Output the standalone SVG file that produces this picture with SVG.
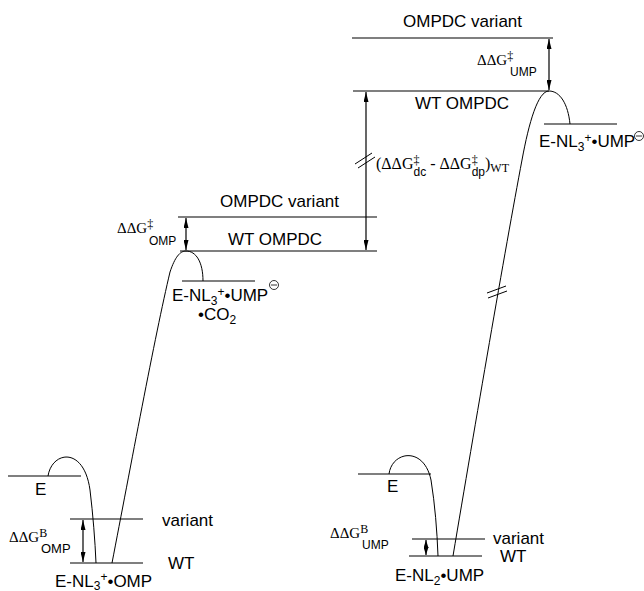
<svg xmlns="http://www.w3.org/2000/svg" width="644" height="591" viewBox="0 0 644 591">
<style>
.ln{stroke:#000;stroke-width:1.2;fill:none}
.cv{stroke:#000;stroke-width:1;fill:none}
.ar{stroke:#000;stroke-width:1.2;fill:none;marker-start:url(#ah);marker-end:url(#ah)}
.ars{stroke:#000;stroke-width:1.2;fill:none;marker-start:url(#ahs);marker-end:url(#ahs)}
.t{font-family:"Liberation Sans",Arial,Helvetica,sans-serif;font-size:17px;fill:#000}
.g{font-family:"Liberation Serif","Times New Roman",serif;font-size:15px;fill:#000}
.gd{font-family:"Liberation Serif","Times New Roman",serif;font-size:16px;fill:#000}
.s{font-family:"Liberation Sans",Arial,Helvetica,sans-serif;font-size:12px}
.gs{font-family:"Liberation Serif","Times New Roman",serif;font-size:12px}
</style>
<defs>
<marker id="ah" viewBox="0 0 10 5" refX="10" refY="2.5" markerWidth="10" markerHeight="5" markerUnits="userSpaceOnUse" orient="auto-start-reverse"><path d="M0,0 L10,2.5 L0,5 z" fill="#000"/></marker>
<marker id="ahs" viewBox="0 0 8 5" refX="8" refY="2.5" markerWidth="8" markerHeight="5" markerUnits="userSpaceOnUse" orient="auto-start-reverse"><path d="M0,0 L8,2.5 L0,5 z" fill="#000"/></marker>
</defs>

<!-- Right top: UMP transition states -->
<g id="ts-ump-variant">
<line class="ln" x1="352" y1="38" x2="553" y2="38"/>
<text class="t" x="403" y="27">OMPDC variant</text>
</g>
<g id="ts-ump-wt">
<line class="ln" x1="353" y1="91" x2="549" y2="91"/>
<text class="t" x="415" y="109">WT OMPDC</text>
</g>
<g id="int-ump">
<line class="ln" x1="544" y1="124" x2="617" y2="124"/>
<text class="t" x="539" y="147">E-NL<tspan class="s" dy="4">3</tspan><tspan class="s" dy="-9">+</tspan><tspan dy="5">•UMP</tspan></text>
<circle cx="639" cy="136" r="4.5" fill="none" stroke="#000" stroke-width="0.8"/>
<line x1="636" y1="136" x2="642" y2="136" stroke="#000" stroke-width="0.8"/>
</g>
<g id="lbl-ddg-ump">
<text class="g" x="477" y="65">ΔΔG<tspan class="gs" dy="-5">‡</tspan></text>
<text class="s" x="510" y="76">UMP</text>
</g>

<!-- Middle: OMP transition states -->
<g id="ts-omp-variant">
<line class="ln" x1="178" y1="217" x2="377" y2="217"/>
<text class="t" x="220" y="207">OMPDC variant</text>
</g>
<g id="ts-omp-wt">
<line class="ln" x1="180" y1="251" x2="377" y2="251"/>
<text class="t" x="228" y="245">WT OMPDC</text>
</g>
<g id="int-omp">
<line class="ln" x1="182" y1="281" x2="255" y2="281"/>
<text class="t" x="172" y="301">E-NL<tspan class="s" dy="4">3</tspan><tspan class="s" dy="-9">+</tspan><tspan dy="5">•UMP</tspan></text>
<circle cx="274" cy="285" r="4.5" fill="none" stroke="#000" stroke-width="0.8"/>
<line x1="271" y1="285" x2="277" y2="285" stroke="#000" stroke-width="0.8"/>
<text class="t" x="198" y="320">•CO<tspan class="s" dy="4">2</tspan></text>
</g>
<g id="lbl-ddg-omp">
<text class="g" x="117" y="233">ΔΔG<tspan class="gs" dy="-5">‡</tspan></text>
<text class="s" x="149" y="245">OMP</text>
</g>

<g id="lbl-diff">
<text class="gd" x="376" y="169">(ΔΔG<tspan class="gs" dy="-5">‡</tspan><tspan class="s" dx="-6" dy="12">dc</tspan><tspan dy="-7"> - ΔΔG</tspan><tspan class="gs" dy="-5">‡</tspan><tspan class="s" dx="-6" dy="12">dp</tspan><tspan dy="-7">)</tspan><tspan class="gs" dy="3">WT</tspan></text>
</g>

<!-- Bottom left -->
<g id="e-left">
<line class="ln" x1="8" y1="476" x2="81" y2="476"/>
<text class="t" x="35" y="495">E</text>
</g>
<g id="omp-variant">
<line class="ln" x1="70" y1="519" x2="143" y2="519"/>
<text class="t" x="162" y="526">variant</text>
</g>
<g id="omp-wt">
<line class="ln" x1="70" y1="563" x2="143" y2="563"/>
<text class="t" x="168" y="569">WT</text>
<text class="t" x="55" y="587">E-NL<tspan class="s" dy="3">3</tspan><tspan class="s" dy="-9">+</tspan><tspan dy="6">•OMP</tspan></text>
</g>
<g id="lbl-ddgb-omp">
<text class="g" x="9" y="542">ΔΔG<tspan class="gs" dy="-5">B</tspan></text>
<text class="s" x="41" y="553" style="font-size:13px">OMP</text>
</g>

<!-- Bottom right -->
<g id="e-right">
<line class="ln" x1="358" y1="474" x2="431" y2="474"/>
<text class="t" x="387" y="492">E</text>
</g>
<g id="ump-variant">
<line class="ln" x1="412" y1="539" x2="485" y2="539"/>
<text class="t" x="493" y="544">variant</text>
</g>
<g id="ump-wt">
<line class="ln" x1="409" y1="556" x2="482" y2="556"/>
<text class="t" x="500" y="562">WT</text>
<text class="t" x="395" y="581">E-NL<tspan class="s" dy="4">2</tspan><tspan dy="-4">•UMP</tspan></text>
</g>
<g id="lbl-ddgb-ump">
<text class="g" x="330" y="538">ΔΔG<tspan class="gs" dy="-5">B</tspan></text>
<text class="s" x="362" y="549">UMP</text>
</g>

<g id="connectors">
<!-- energy profile curves -->
<path class="cv" d="M48,476 C52,451 84,446 90,490 C93,515 95,540 96,563"/>
<path class="cv" d="M112,563 C130,470 155,335 170,272 C175,257 180,251 186,251 C196,251 203,262 203,281"/>
<path class="cv" d="M389,474 C392,451 424,446 431,480 C435,505 437,530 438,556"/>
<path class="cv" d="M453,556 C475,425 505,250 522,160 C529,122 538,91 549,91 C560,91 568,104 570,124"/>
<!-- break marks -->
<line class="cv" x1="487" y1="293" x2="506" y2="286"/>
<line class="cv" x1="488" y1="298" x2="507" y2="291"/>
<line class="cv" x1="355" y1="164" x2="372" y2="153"/>
<line class="cv" x1="358" y1="168" x2="375" y2="157"/>
<!-- energy difference arrows -->
<line class="ar" x1="549" y1="39" x2="549" y2="90"/>
<line class="ar" x1="366" y1="92" x2="366" y2="250"/>
<line class="ar" x1="186" y1="218" x2="186" y2="250"/>
<line class="ar" x1="83" y1="520" x2="83" y2="562"/>
<line class="ars" x1="426" y1="540" x2="426" y2="555"/>
</g>
</svg>
